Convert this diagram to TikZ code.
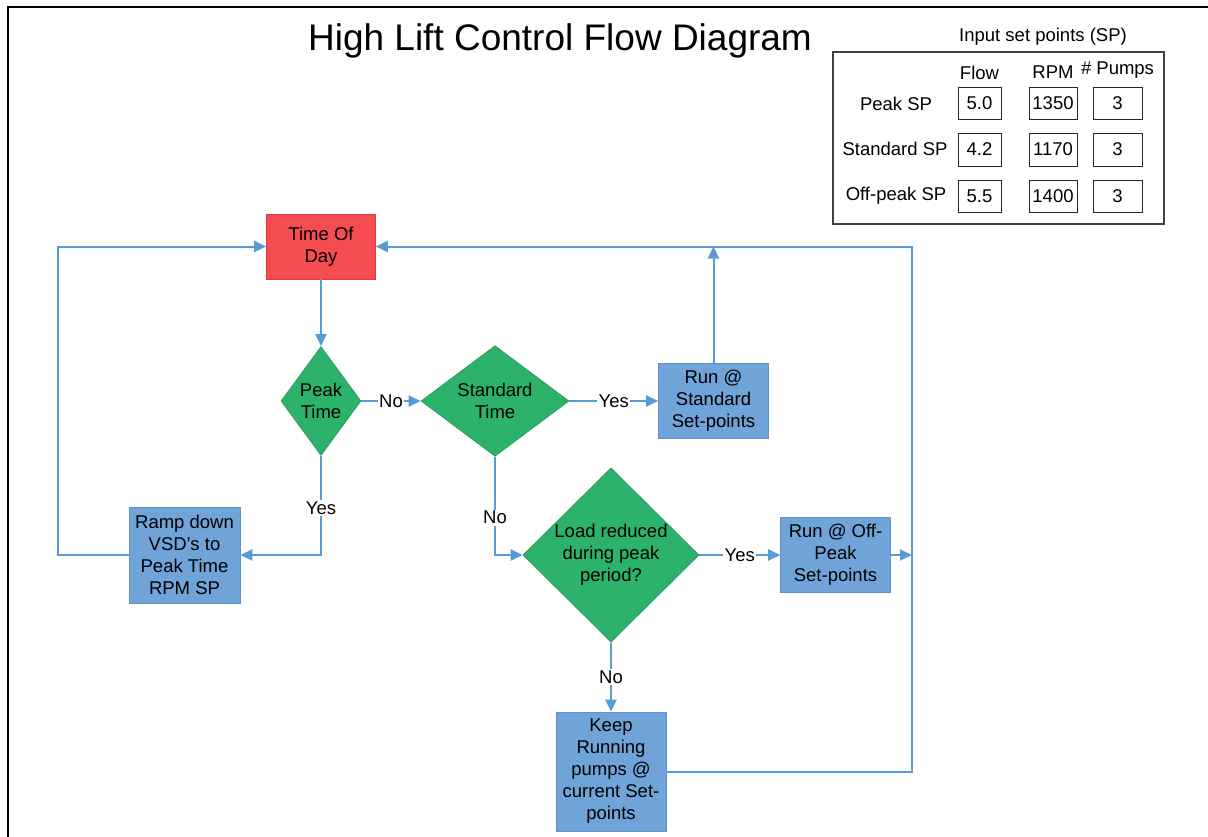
\documentclass[tikz,border=0pt]{standalone}
\usepackage{fontspec}
\setmainfont{Liberation Sans}
\usetikzlibrary{shapes.geometric,arrows.meta}
\definecolor{flowline}{RGB}{91,155,213}
\definecolor{boxblue}{RGB}{112,163,216}
\definecolor{boxedge}{RGB}{96,146,200}
\definecolor{diagreen}{RGB}{44,178,106}
\definecolor{diaedge}{RGB}{36,150,88}
\definecolor{startred}{RGB}{244,76,80}
\definecolor{startedge}{RGB}{220,60,64}
\newcommand\diagfont{\fontsize{18.5}{22}\selectfont}
\begin{document}
\begin{tikzpicture}[x=1pt,y=-1pt,
  procbox/.style={rectangle, fill=boxblue, draw=boxedge, line width=0.6pt,
    align=center, inner sep=0pt, font=\diagfont, minimum width=110pt, minimum height=75pt},
  startbox/.style={procbox, fill=startred, draw=startedge, minimum width=109pt, minimum height=65pt},
  decision/.style={diamond, fill=diagreen, draw=diaedge, line width=0.6pt,
    align=center, inner sep=0pt, font=\diagfont},
  flow/.style={draw=flowline, line width=2pt},
  arr/.style={flow, -{Triangle[length=12pt,width=11pt]}},
  lbl/.style={fill=white, inner sep=1.5pt, font=\diagfont, text=black},
  cell/.style={draw=black!85, line width=1pt, minimum height=32pt, inner sep=0pt, font=\diagfont},
  tabtext/.style={font=\diagfont, inner sep=0pt}
]
\useasboundingbox (0,0) rectangle (1208,836);

% page frame (top and left edges)
\draw[line width=2.4pt, line cap=rect] (8,836) -- (8,7) -- (1208,7);

% title
\node[font=\fontsize{37}{44}\selectfont, inner sep=0pt] (title) at (560,41) {High Lift Control Flow Diagram};

% set point table
\node[tabtext] (sptitle) at (1043,37) {Input set points (SP)};
\draw[draw=black!75, line width=1.3pt] (833,52) rectangle (1164,224);
\node[tabtext] (hflow) at (979.5,73) {Flow};
\node[tabtext] (hrpm) at (1053,72) {RPM};
\node[tabtext] (hpumps) at (1117.5,70) {\# Pumps};

\node[tabtext] (rpeak) at (896,103.5) {Peak SP};
\node[tabtext] (rstd) at (895,149) {Standard SP};
\node[tabtext] (roff) at (896,195.5) {Off-peak SP};

\node[cell, minimum width=43pt] (f1) at (979.5,103.5) {5.0};
\node[cell, minimum width=48pt] (r1) at (1053,103.5) {1350};
\node[cell, minimum width=49pt] (p1) at (1117.5,103.5) {3};
\node[cell, minimum width=43pt, minimum height=33pt] (f2) at (979.5,149.5) {4.2};
\node[cell, minimum width=48pt, minimum height=33pt] (r2) at (1053,149.5) {1170};
\node[cell, minimum width=49pt, minimum height=33pt] (p2) at (1117.5,149.5) {3};
\node[cell, minimum width=43pt] (f3) at (979.5,196) {5.5};
\node[cell, minimum width=48pt] (r3) at (1053,196) {1400};
\node[cell, minimum width=49pt] (p3) at (1117.5,196) {3};

% flow chart nodes
\node[startbox] (tod) at (321,246.5) {Time Of\\Day};
\node[decision, minimum width=80pt, minimum height=109pt] (peak) at (321,401) {Peak\\Time};
\node[decision, minimum width=148pt, minimum height=90pt] (std) at (495,401) {Standard\\Time};
\node[procbox] (runstd) at (713.5,401) {Run @\\Standard\\Set-points};
\node[decision, minimum width=176pt, minimum height=174pt] (load) at (611,555) {Load reduced\\during peak\\period?};
\node[procbox] (runoff) at (835.5,555) {Run @ Off-\\Peak\\Set-points};
\node[procbox, minimum width=111pt, minimum height=96pt] (ramp) at (184.5,555) {Ramp down\\VSD’s to\\Peak Time\\RPM SP};
\node[procbox, minimum height=119pt] (keep) at (611,771.5) {Keep\\Running\\pumps @\\current Set-\\points};

% return rails
\coordinate (railtop) at (912,246.5);
\coordinate (railleft) at (58,246.5);
\coordinate (stdjoin) at (runstd.north |- railtop);
\coordinate (offjoin) at (railtop |- runoff.east);

% connectors
\draw[arr] (tod.south) -- (peak.north);
\draw[arr] (peak.east) -- node[lbl] (lno1) {No} (std.west);
\draw[arr] (std.east) -- node[lbl] (lyes1) {Yes} (runstd.west);
\draw[arr] (runstd.north) -- (stdjoin);
\draw[arr] (std.south) |- node[lbl, pos=0.31] (lno2) {No} (load.west);
\draw[arr] (load.east) -- node[lbl] (lyes2) {Yes} (runoff.west);
\draw[arr] (runoff.east) -- (offjoin);
\draw[arr] (load.south) -- node[lbl] (lno3) {No} (keep.north);
\draw[arr] (peak.south) |- node[lbl, pos=0.265] (lyes3) {Yes} (ramp.east);
\draw[arr] (keep.east) -| (railtop) -- (tod.east);
\draw[arr] (ramp.west) -| (railleft) -- (tod.west);
\end{tikzpicture}
\end{document}
